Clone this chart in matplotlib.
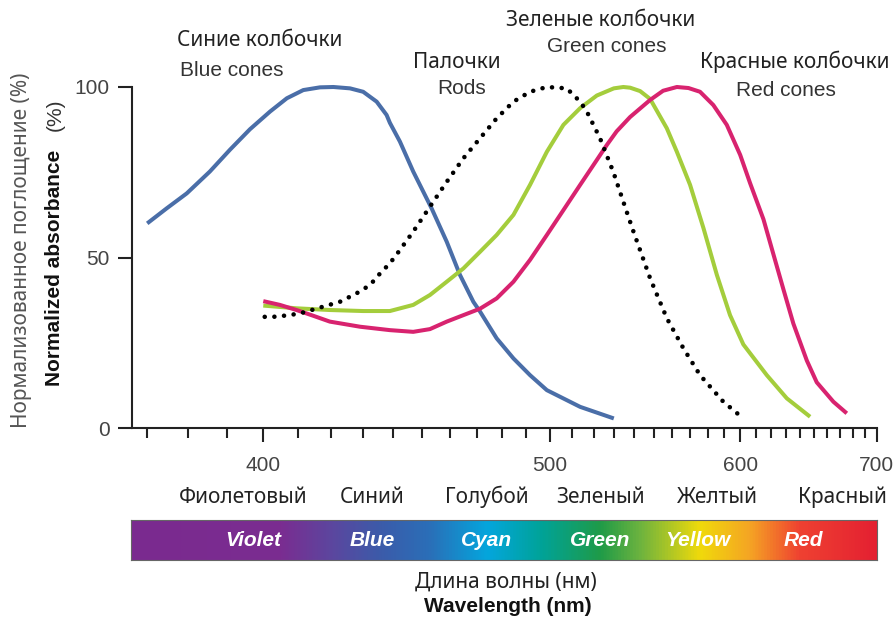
import numpy as np
import matplotlib
matplotlib.use("Agg")
import matplotlib.pyplot as plt
from matplotlib.colors import LinearSegmentedColormap

W, H = 896, 621

# normalized absorbance (%) against wavelength (nm)
blue_nm = [370, 374.7, 379.7, 385.6, 390.9, 396.3, 401.9, 406.7, 411.5, 416.5, 420.6, 425.8,
           430.0, 434.4, 437.7, 438.8, 442.2, 446.8, 453.3, 458.8, 463.7, 468.8, 471.4, 477.9,
           484.7, 491.6, 498.8, 513.7, 529.7]
blue_pct = [60, 64.4, 68.8, 75.2, 81.6, 87.6, 92.8, 96.7, 99.1, 99.9, 100, 99.6,
            98.6, 95.7, 91.8, 89.5, 84.0, 75.2, 64.4, 54.6, 44.9, 37.0, 34.1, 26.3,
            20.4, 15.5, 11.1, 6.2, 2.8]

rod_nm = [400.4, 402.8, 405.7, 408.6, 410.5, 417.5, 422.6, 427.9, 432.2, 435.5, 438.8, 441.1,
          446.8, 452.7, 458.8, 465.0, 471.4, 477.9, 484.7, 491.6, 498.8, 507.6, 513.7, 516.8,
          523.0, 529.5, 536.9, 539.5, 548.1, 557.0, 566.1, 575.6, 589.4, 601.8]
rod_pct = [32.6, 32.6, 32.9, 33.3, 33.6, 35.6, 37.0, 39.5, 41.9, 45.3, 48.3, 50.9,
           57.6, 64.9, 72.2, 79.1, 85.0, 90.8, 95.7, 98.6, 100, 99.6, 95.7, 92.8,
           85.0, 75.0, 62.0, 57.6, 43.9, 32.2, 23.4, 15.5, 7.7, 2.8]

green_nm = [400, 409.5, 419.5, 430.0, 438.8, 446.8, 452.7, 458.8, 465.0, 471.4, 477.9, 484.7,
            491.6, 498.8, 506.1, 513.7, 521.5, 529.7, 534.4, 537.8, 542.9, 548.1, 557.0, 562.5,
            569.9, 577.6, 585.5, 593.5, 601.8, 617.0, 630.6, 647.2]
green_pct = [35.9, 35.1, 34.6, 34.3, 34.3, 36.1, 39.0, 42.9, 46.8, 51.7, 56.6, 62.5,
             71.3, 81.0, 88.9, 93.8, 97.5, 99.6, 100, 99.8, 98.8, 96.5, 87.9, 81.0,
             71.3, 58.6, 44.9, 33.1, 24.5, 15.5, 8.7, 3.3]

red_nm = [400, 404.7, 409.5, 414.5, 419.5, 429.0, 438.8, 446.8, 452.7, 458.8, 465.0, 471.4,
          477.9, 484.7, 491.6, 498.8, 506.1, 513.7, 521.5, 526.3, 531.1, 537.8, 548.1, 555.0,
          562.5, 569.0, 575.6, 583.4, 591.5, 599.8, 606.1, 614.8, 621.4, 628.3, 635.2, 644.8,
          652.1, 664.7, 675.2]
red_pct = [37.2, 36.1, 34.6, 32.9, 31.2, 29.7, 28.7, 28.2, 29.0, 31.2, 33.1, 35.0,
           38.0, 42.9, 49.3, 56.6, 63.9, 71.3, 78.6, 83.0, 87.0, 91.2, 96.2, 98.9,
           100, 99.7, 98.6, 94.7, 88.9, 80.1, 71.8, 61.2, 51.0, 40.6, 30.6, 19.8,
           13.4, 7.7, 4.3]

major_ticks = [400, 500, 600, 700]
minor_ticks = [t for t in range(370, 700, 10) if t not in major_ticks]

color_names_ru = ["Фиолетовый", "Синий", "Голубой", "Зеленый", "Желтый", "Красный"]
color_names_en = ["Violet", "Blue", "Cyan", "Green", "Yellow", "Red"]
ru_pos = [0.151, 0.323, 0.477, 0.630, 0.786, 0.953]
en_pos = [0.164, 0.323, 0.477, 0.629, 0.760, 0.901]

spectrum_stops = [
    (0.0, "#7b2a8f"), (0.20, "#7a2d91"), (0.27, "#5b479f"), (0.33, "#3d5aa9"),
    (0.40, "#2a6fb8"), (0.477, "#04a6dd"), (0.548, "#00a39a"), (0.629, "#1f9b48"),
    (0.682, "#6cb33f"), (0.763, "#f0da0b"), (0.83, "#f5a424"), (0.897, "#ef4131"),
    (1.0, "#e42032"),
]

RU = ["Noto Sans", "DejaVu Sans"]
EN = ["Liberation Sans", "DejaVu Sans"]


def fx(px):
    return px / W


def fy(py):
    return 1 - py / H


fig = plt.figure(figsize=(W / 100, H / 100), dpi=100)

# main plot on a 1/wavelength axis
ax = fig.add_axes([fx(132), fy(428), fx(878) - fx(132), fy(87) - fy(428)])
ax.set_xscale("function", functions=(lambda x: -1.0 / np.asarray(x, float),
                                     lambda y: -1.0 / np.asarray(y, float)))
ax.set_xlim(366.4, 701)
ax.set_ylim(0, 100)

ax.plot(blue_nm, blue_pct, color="#4a6ea8", lw=2.9, solid_capstyle="butt",
        solid_joinstyle="round", clip_on=False)
ax.plot(green_nm, green_pct, color="#a4cd3c", lw=2.9, solid_capstyle="butt",
        solid_joinstyle="round", clip_on=False)
ax.plot(red_nm, red_pct, color="#d8236f", lw=2.9, solid_capstyle="butt",
        solid_joinstyle="round", clip_on=False)
ax.plot(rod_nm, rod_pct, color="black", lw=3.3, linestyle=(0, (0.01, 2.1)),
        dash_capstyle="round", clip_on=False)

for s in ["top", "right"]:
    ax.spines[s].set_visible(False)
ax.spines["left"].set_bounds(0, 100)
ax.spines["bottom"].set_bounds(366.4, 700)
for s in ["left", "bottom"]:
    ax.spines[s].set_linewidth(1.5)
    ax.spines[s].set_color("#222")

ax.set_xticks(major_ticks)
ax.set_xticks(minor_ticks, minor=True)
ax.set_xticklabels([str(t) for t in major_ticks])
ax.set_yticks([0, 50, 100])
ax.tick_params(axis="x", which="major", length=10, width=1.5, color="#222", pad=10,
               labelsize=15, labelcolor="#444")
ax.tick_params(axis="x", which="minor", length=7, width=1.5, color="#222")
ax.tick_params(axis="y", length=10, width=1.5, color="#222", pad=6,
               labelsize=15, labelcolor="#444")
for lab in ax.get_xticklabels() + ax.get_yticklabels():
    lab.set_family(EN)

# curve labels
labels_ru = [("Синие колбочки", 260, 41), ("Палочки", 457, 63),
             ("Зеленые колбочки", 601, 21), ("Красные колбочки", 795, 62)]
labels_en = [("Blue cones", 232, 71), ("Rods", 462, 89),
             ("Green cones", 607, 46), ("Red cones", 786, 91)]
for txt, x, y in labels_ru:
    fig.text(fx(x), fy(y), txt, ha="center", va="center", fontsize=15, color="#222", family=RU)
for txt, x, y in labels_en:
    fig.text(fx(x), fy(y), txt, ha="center", va="center", fontsize=15, color="#333", family=EN)

# axis titles
fig.text(fx(22), fy(250), "Нормализованное поглощение (%)", rotation=90, ha="center",
         va="center", fontsize=15, color="#555", family=RU)
fig.text(fx(55), fy(268), "Normalized absorbance", rotation=90, ha="center",
         va="center", fontsize=15, weight="bold", color="#111", family=EN)
fig.text(fx(55), fy(115), "(%)", rotation=90, ha="center", va="center",
         fontsize=15, color="#333", family=EN)
fig.text(fx(506), fy(582), "Длина волны (нм)", ha="center", va="center",
         fontsize=15, color="#222", family=RU)
fig.text(fx(508), fy(606), "Wavelength (nm)", ha="center", va="center",
         fontsize=15, weight="bold", color="#111", family=EN)

# visible spectrum band
cmap = LinearSegmentedColormap.from_list("spectrum", spectrum_stops)
bx = fig.add_axes([fx(131), fy(560), fx(877) - fx(131), fy(520) - fy(560)])
bx.imshow(np.linspace(0, 1, 512)[None, :], cmap=cmap, aspect="auto", extent=[0, 1, 0, 1])
bx.set_xlim(0, 1)
bx.set_ylim(0, 1)
bx.set_xticks([])
bx.set_yticks([])
for s in bx.spines.values():
    s.set_color("#666")
    s.set_linewidth(0.8)
for name, pos in zip(color_names_en, en_pos):
    bx.text(pos, 0.5, name, ha="center", va="center", fontsize=15, color="white",
            weight="bold", style="italic", family=EN)
for name, pos in zip(color_names_ru, ru_pos):
    bx.text(pos, 1.575, name, ha="center", va="center", fontsize=15, color="#222",
            family=RU, clip_on=False)

fig.savefig("out.png", dpi=100, facecolor="white")
